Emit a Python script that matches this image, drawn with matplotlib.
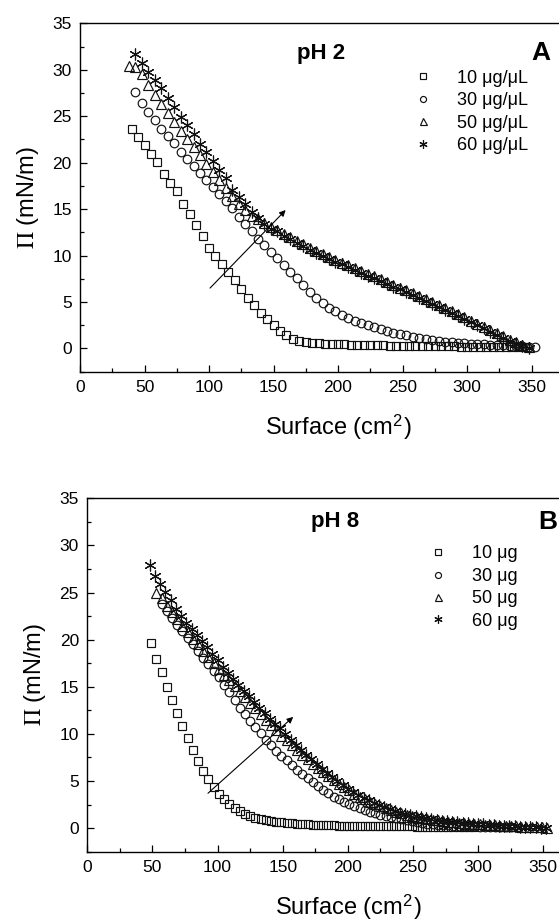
import numpy as np
import matplotlib
matplotlib.use("Agg")
import matplotlib.pyplot as plt
from matplotlib.ticker import MultipleLocator

plt.rcParams['font.family'] = ['Liberation Sans', 'DejaVu Sans']
plt.rcParams['mathtext.fontset'] = 'stix'

# ---- data read off the isotherms (surface pressure vs. area) ----
# each series: first area value, area step, then pressure values
p2_10_start, p2_10_step = 40, 5
p2_10 = [23.6, 22.8, 21.9, 20.9, 20.1, 18.8, 17.8, 16.9, 15.6, 14.5, 13.3, 12.1, 10.8, 9.9,
         9.1, 8.25, 7.4, 6.4, 5.45, 4.7, 3.85, 3.2, 2.5, 1.9, 1.4, 1.05, 0.8, 0.68, 0.6, 0.55,
         0.52, 0.49, 0.46, 0.44, 0.42, 0.4, 0.38, 0.36, 0.35, 0.33, 0.32, 0.31, 0.3, 0.29,
         0.28, 0.27, 0.26, 0.25, 0.24, 0.23, 0.22, 0.21, 0.2, 0.19, 0.18, 0.17, 0.16, 0.15,
         0.14, 0.13, 0.12, 0.11]

p2_30_start, p2_30_step = 43, 5
p2_30 = [27.6, 26.4, 25.5, 24.6, 23.6, 22.9, 22.1, 21.2, 20.4, 19.6, 18.9, 18.1, 17.35, 16.6,
         15.9, 15.1, 14.2, 13.4, 12.6, 11.8, 11.1, 10.35, 9.7, 8.95, 8.2, 7.55, 6.8, 6.05, 5.4,
         4.9, 4.4, 4.0, 3.6, 3.3, 3.0, 2.75, 2.5, 2.28, 2.08, 1.88, 1.7, 1.55, 1.4, 1.26, 1.14,
         1.02, 0.92, 0.83, 0.75, 0.68, 0.62, 0.57, 0.52, 0.48, 0.44, 0.4, 0.37, 0.34, 0.3,
         0.27, 0.23, 0.19, 0.12]

p2_50_start, p2_50_step = 38, 5
p2_50 = [30.4, 30.3, 29.5, 28.4, 27.3, 26.3, 25.3, 24.4, 23.4, 22.6, 21.7, 20.8, 19.9, 19.0,
         18.1, 17.3, 16.4, 15.6, 14.9, 14.3, 13.9, 13.5, 13.1, 12.8, 12.35, 11.95, 11.55, 11.2,
         10.85, 10.5, 10.15, 9.85, 9.55, 9.25, 8.95, 8.65, 8.35, 8.05, 7.75, 7.45, 7.15, 6.85,
         6.55, 6.25, 5.93, 5.6, 5.28, 4.96, 4.64, 4.32, 4.0, 3.67, 3.34, 3.01, 2.68, 2.35, 2.0,
         1.65, 1.3, 0.95, 0.65, 0.38, 0.15]

p2_60_start, p2_60_step = 43, 5
p2_60 = [31.7, 30.7, 29.8, 28.9, 28.0, 27.0, 26.0, 24.9, 24.0, 23.1, 22.0, 21.1, 20.2, 19.2,
         18.3, 17.1, 16.3, 15.5, 14.7, 14.0, 13.4, 12.9, 12.6, 12.15, 11.75, 11.35, 11.0, 10.65,
         10.3, 9.95, 9.65, 9.35, 9.05, 8.75, 8.45, 8.15, 7.85, 7.55, 7.25, 6.95, 6.65, 6.35,
         6.05, 5.73, 5.4, 5.08, 4.76, 4.44, 4.12, 3.8, 3.47, 3.14, 2.81, 2.48, 2.15, 1.8, 1.45,
         1.1, 0.78, 0.5, 0.28, 0.1]

p8_10_start, p8_10_step = 49, 4
p8_10 = [19.6, 18.0, 16.6, 15.0, 13.6, 12.25, 10.8, 9.6, 8.3, 7.1, 6.1, 5.2, 4.4, 3.65, 3.1,
         2.6, 2.15, 1.8, 1.52, 1.3, 1.1, 0.92, 0.84, 0.78, 0.7, 0.64, 0.58, 0.54, 0.49, 0.45,
         0.41, 0.38, 0.35, 0.33, 0.31, 0.29, 0.28, 0.26, 0.25, 0.24, 0.23, 0.22, 0.22, 0.21,
         0.21, 0.2, 0.2, 0.19, 0.19, 0.18, 0.18, 0.17, 0.17, 0.16, 0.16, 0.15, 0.15, 0.14,
         0.14, 0.13, 0.13, 0.12, 0.12]

p8_30_start, p8_30_step = 57, 4
p8_30 = [23.8, 23.0, 22.3, 21.6, 20.9, 20.2, 19.5, 18.8, 18.1, 17.4, 16.7, 16.0, 15.2, 14.4,
         13.6, 12.8, 12.1, 11.4, 10.7, 10.1, 9.4, 8.8, 8.2, 7.7, 7.2, 6.7, 6.2, 5.75, 5.3, 4.85,
         4.45, 4.05, 3.7, 3.35, 3.05, 2.8, 2.55, 2.35, 2.15, 1.95, 1.75, 1.58, 1.42, 1.28, 1.15,
         1.03, 0.92, 0.82, 0.72, 0.63, 0.55, 0.48, 0.42, 0.37, 0.33, 0.3, 0.27, 0.24, 0.22, 0.2,
         0.18, 0.16, 0.14, 0.12, 0.1, 0.09, 0.08, 0.07]

p8_50_start, p8_50_step = 53, 4
p8_50 = [25.0, 24.4, 23.6, 22.9, 22.2, 21.5, 20.8, 20.1, 19.5, 18.8, 18.2, 17.5, 16.9, 16.3,
         15.7, 15.1, 14.5, 13.9, 13.3, 12.7, 12.1, 11.5, 10.9, 10.4, 9.8, 9.3, 8.8, 8.3, 7.8,
         7.3, 6.85, 6.4, 5.95, 5.5, 5.1, 4.7, 4.35, 4.0, 3.65, 3.35, 3.05, 2.8, 2.55, 2.3, 2.1,
         1.9, 1.72, 1.56, 1.42, 1.3, 1.18, 1.08, 0.98, 0.9, 0.82, 0.75, 0.68, 0.62, 0.57, 0.52,
         0.47, 0.43, 0.4, 0.36, 0.33, 0.3, 0.27, 0.24, 0.21, 0.18, 0.16, 0.13, 0.11, 0.09, 0.07,
         0.05]

p8_60_start, p8_60_step = 48, 4
p8_60 = [27.9, 26.8, 25.9, 25.1, 24.2, 23.3, 22.5, 21.8, 21.1, 20.5, 19.9, 19.2, 18.5, 17.8,
         17.1, 16.5, 15.8, 15.2, 14.6, 14.0, 13.4, 12.8, 12.2, 11.6, 11.1, 10.6, 10.0, 9.4, 8.8,
         8.3, 7.8, 7.3, 6.8, 6.3, 5.85, 5.4, 5.0, 4.6, 4.2, 3.85, 3.5, 3.2, 2.95, 2.7, 2.45,
         2.2, 2.0, 1.8, 1.65, 1.5, 1.37, 1.25, 1.14, 1.04, 0.95, 0.87, 0.8, 0.73, 0.67, 0.61,
         0.56, 0.51, 0.47, 0.43, 0.39, 0.35, 0.31, 0.28, 0.25, 0.22, 0.19, 0.16, 0.13, 0.1,
         0.08, 0.05, 0.03]

labels_a = ['10 μg/μL', '30 μg/μL', '50 μg/μL', '60 μg/μL']
labels_b = ['10 μg', '30 μg', '50 μg', '60 μg']

panels = [
    dict(series=[(p2_10_start, p2_10_step, p2_10), (p2_30_start, p2_30_step, p2_30),
                 (p2_50_start, p2_50_step, p2_50), (p2_60_start, p2_60_step, p2_60)],
         labels=labels_a, title='pH 2', tag='A',
         rect=(80, 23.3, 371.7), pxu=1.29,
         title_xy=(187, 31.8), tag_xy=(357, 31.8),
         arrow=((100.8, 6.5), (159.4, 14.9)), leg_xy=(259, 30.0)),
    dict(series=[(p8_10_start, p8_10_step, p8_10), (p8_30_start, p8_30_step, p8_30),
                 (p8_50_start, p8_50_step, p8_50), (p8_60_start, p8_60_step, p8_60)],
         labels=labels_b, title='pH 8', tag='B',
         rect=(87.3, 498.3, 851.7), pxu=1.303,
         title_xy=(190, 32.5), tag_xy=(353, 32.5),
         arrow=((92.6, 3.7), (158, 11.8)), leg_xy=(262, 30.0)),
]

markers = [dict(marker='s', ms=6.2), dict(marker='o', ms=6.2),
           dict(marker='^', ms=7.2), dict(marker=(6, 2, 0), ms=8.5)]

W, H = 559, 923
XMAX = 400
fig = plt.figure(figsize=(W / 100, H / 100), dpi=100)

for p in panels:
    left, top, bottom = p['rect']
    ax = fig.add_axes([left / W, 1 - bottom / H, XMAX * p['pxu'] / W, (bottom - top) / H])
    handles = []
    for (x0, dx, yv), mk, lab in zip(p['series'], markers, p['labels']):
        xv = x0 + dx * np.arange(len(yv))
        h, = ax.plot(xv, yv, ls='none', mfc='none', mec='#111111', mew=0.85,
                     label=lab, **mk)
        handles.append(h)

    ax.set_xlim(0, XMAX)
    ax.set_ylim(-2.5, 35)
    ax.set_xticks(np.arange(0, 351, 50))
    ax.set_yticks(np.arange(0, 36, 5))
    ax.xaxis.set_minor_locator(MultipleLocator(25))
    ax.yaxis.set_minor_locator(MultipleLocator(2.5))
    ax.tick_params(which='both', direction='in', top=False, right=False, width=0.9,
                   labelsize=12.5)
    ax.tick_params(which='major', length=5, pad=6)
    ax.tick_params(which='minor', length=3)
    for s in ax.spines.values():
        s.set_linewidth(1.0)

    ax.set_xlabel(r'Surface (cm$^\mathregular{2}$)', fontsize=17, labelpad=12)
    ax.set_ylabel(r'$\Pi$ (mN/m)', fontsize=17, labelpad=8)

    ax.text(*p['title_xy'], p['title'], fontsize=16, fontweight='bold',
            ha='center', va='center')
    ax.text(*p['tag_xy'], p['tag'], fontsize=19, fontweight='bold',
            ha='center', va='center')

    (xa, ya), (xb, yb) = p['arrow']
    ax.annotate('', xy=(xb, yb), xytext=(xa, ya),
                arrowprops=dict(arrowstyle='-|>', lw=0.8, color='k', mutation_scale=9,
                                shrinkA=0, shrinkB=0))

    ax.legend(handles=handles, loc='upper left', bbox_to_anchor=p['leg_xy'],
              bbox_transform=ax.transData, frameon=False, fontsize=13,
              markerscale=0.7, handlelength=1.0, handletextpad=1.4,
              labelspacing=0.3, borderpad=0, borderaxespad=0)

fig.savefig('out.png', dpi=100)
